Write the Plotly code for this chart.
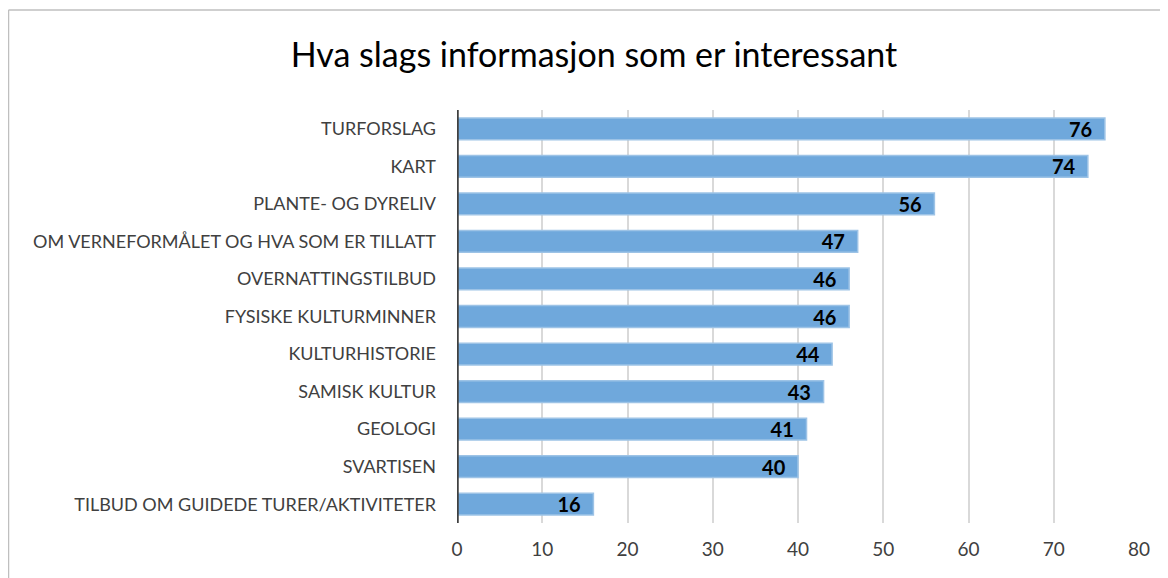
import plotly.graph_objects as go

categories = [
    "TURFORSLAG",
    "KART",
    "PLANTE- OG DYRELIV",
    "OM VERNEFORMÅLET OG HVA SOM ER TILLATT",
    "OVERNATTINGSTILBUD",
    "FYSISKE KULTURMINNER",
    "KULTURHISTORIE",
    "SAMISK KULTUR",
    "GEOLOGI",
    "SVARTISEN",
    "TILBUD OM GUIDEDE TURER/AKTIVITETER",
]
values = [76, 74, 56, 47, 46, 46, 44, 43, 41, 40, 16]
x_ticks = [0, 10, 20, 30, 40, 50, 60, 70, 80]
title = "Hva slags informasjon som er interessant"

W, H = 1168, 578
OFF = 8  # page body offset
L, R, T, B = 457 - OFF, 29 + OFF, 110 - OFF, 55 + OFF
pw, ph = W - L - R, H - T - B
FONT = "Lato, Open Sans, sans-serif"

fig = go.Figure(
    go.Bar(
        x=values,
        y=categories,
        orientation="h",
        width=0.58,
        marker=dict(color="#6FA8DC", line=dict(color="#9DC3E6", width=1.5)),
        text=[str(v) + "\u00a0\u00a0" for v in values],
        textposition="inside",
        insidetextanchor="end",
        textangle=0,
        constraintext="none",
        textfont=dict(family=FONT, size=20, color="black", weight="bold"),
        cliponaxis=False,
    )
)

fig.update_layout(
    width=W,
    height=H,
    margin=dict(l=L, r=R, t=T, b=B, autoexpand=False),
    paper_bgcolor="white",
    plot_bgcolor="white",
    showlegend=False,
    title=dict(
        text=title,
        x=(594 - OFF) / W,
        xref="container",
        xanchor="center",
        y=1 - (55 - OFF) / H,
        yref="container",
        yanchor="middle",
        font=dict(family=FONT, size=34, color="black"),
    ),
    font=dict(family=FONT, color="#404040"),
    xaxis=dict(
        range=[0, 80],
        tickvals=x_ticks,
        showgrid=True,
        gridcolor="#D9D9D9",
        gridwidth=1.5,
        zeroline=False,
        showline=False,
        ticks="",
        ticklabelstandoff=13,
        tickfont=dict(size=19, color="#404040"),
    ),
    yaxis=dict(
        autorange="reversed",
        showgrid=False,
        zeroline=False,
        showline=False,
        ticks="",
        ticklabelstandoff=20,
        tickfont=dict(size=18, color="#404040"),
    ),
)

# vertical axis line at x=0
fig.add_shape(type="line", xref="x", yref="paper", x0=0, x1=0, y0=0, y1=1,
              line=dict(color="#404040", width=3.5), layer="above")

# outer chart border (left and top edges visible)
bx = (8 - OFF - L) / pw + 0.5 / pw
by = (H - B - (10 - OFF)) / ph
fig.add_shape(type="line", xref="paper", yref="paper", x0=bx, x1=bx, y0=by, y1=-0.3,
              line=dict(color="#BFBFBF", width=1.5))
fig.add_shape(type="line", xref="paper", yref="paper", x0=bx, x1=1.2, y0=by, y1=by,
              line=dict(color="#BFBFBF", width=1.5))

fig.write_html("out.html")
